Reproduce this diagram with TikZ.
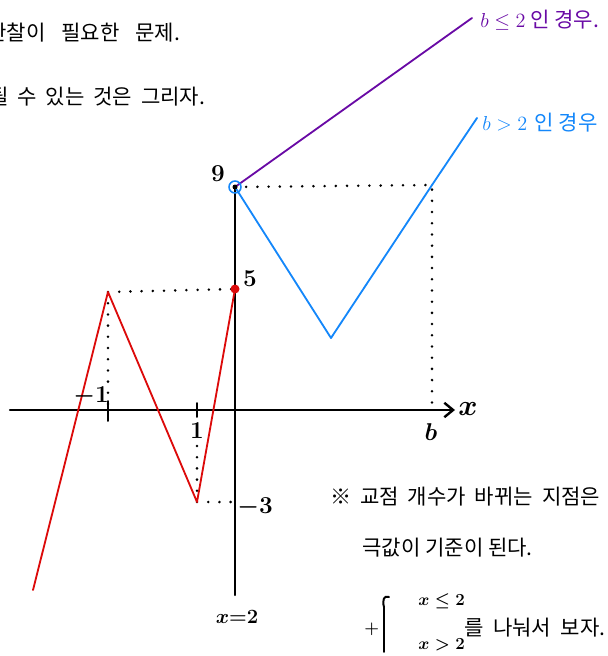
\documentclass[tikz,border=0pt]{standalone}
\usepackage{fontspec}
\setmainfont{Noto Sans CJK KR}
\usetikzlibrary{arrows.meta}
\definecolor{redline}{RGB}{220,10,10}
\definecolor{blueline}{RGB}{20,135,250}
\definecolor{purpleline}{RGB}{105,10,165}
\tikzset{
  axisline/.style={line width=1.7pt},
  graphline/.style={line width=1.3pt},
  dotline/.style={line width=2pt, dash pattern=on 0pt off 2.8mm},
  note/.style={font=\fontsize{#1}{18}\selectfont, inner sep=0pt, anchor=west},
  note/.default=15,
  ticklabel/.style={font=\fontsize{17}{20}\selectfont\boldmath, inner sep=1pt},
  caselabel/.style={font=\fontsize{13}{15}\selectfont\boldmath, inner sep=0pt, anchor=west}
}
\begin{document}
\begin{tikzpicture}[x=0.025cm, y=-0.025cm, line join=round, line cap=round, >={Straight Barb[length=2.2mm, width=3.6mm]}]
\useasboundingbox (0,0) rectangle (607,656);
\path 	(235,410) coordinate (O)
(235,187) coordinate (A)
(235,289) coordinate (B)
(108,292) coordinate (C)
(197,502) coordinate (D)
(33,590) coordinate (E)
(331,338) coordinate (F)
(432,185) coordinate (G)
(477,118) coordinate (H)
(472,18) coordinate (K)
(108,410) coordinate (C0)
(197,410) coordinate (D0)
(432,410) coordinate (G0)
(235,595) coordinate (Y0)
(10,410) coordinate (X0)
(455,410) coordinate (X1);
% dotted guides
\draw[dotline] (C)--(B) (C)--(C0) (D)--(235,502) (D)--(197,438) (A)--(G)--(G0);
% axes
\draw[axisline,->] (X0)--(X1);
\draw[axisline] (A)--(Y0);
\draw[line width=1.4pt] (108,401)--(108,421) (197,403)--(197,417);
% graphs
\draw[graphline,purpleline] (A)--(K);
\draw[graphline,blueline] (A)--(F)--(G)--(H);
\draw[graphline,redline] (E)--(C)--(D)--(B);
\fill (A) circle (2.5);
\draw[blueline,line width=1.1pt] (A) circle (6);
\fill[redline] (B) circle (4.5);
% labels
\node[ticklabel] (l9) at (218,174) {$9$};
\node[ticklabel] (l5) at (250,279) {$5$};
\node[ticklabel] (lm1) at (91,396) {$-1$};
\node[ticklabel] (l1) at (197,431) {$1$};
\node[ticklabel] (lm3) at (255,507) {$-3$};
\node[ticklabel] (lb) at (431,432) {$b$};
\node[ticklabel, font=\fontsize{21}{24}\selectfont\boldmath] (lx) at (468,409) {$x$};
\node[ticklabel, font=\fontsize{15}{18}\selectfont\boldmath] (ly) at (237,617) {$x{=}2$};
\node[note, purpleline] (n1) at (480,20) {$b\le2$ 인 경우.};
\node[note, blueline] (n2) at (482,123) {$b>2$\hspace{2pt} 인 경우};
\node[note] (t1) at (-13,33) {\spaceskip=0.75em 관찰이 필요한 문제.};
\node[note] (t2) at (-11,97) {\spaceskip=0.42em 될 수 있는 것은 그리자.};
\node[note] (t3) at (330,497) {\spaceskip=0.42em ※ 교점 개수가 바뀌는 지점은};
\node[note] (t4) at (362,548) {극값이 기준이 된다.};
\node[caselabel] (plus) at (364,629) {$+$};
\draw[line width=1.4pt] (389,597) .. controls (384,595) and (382,600) .. (384,607) -- (384,652);
\node[caselabel] (c1) at (418,601) {$x\le2$};
\node[caselabel] (c2) at (418,645) {$x>2$};
\node[note] (t6) at (464,628) {\spaceskip=0.45em 를 나눠서 보자.};
\end{tikzpicture}
\end{document}
